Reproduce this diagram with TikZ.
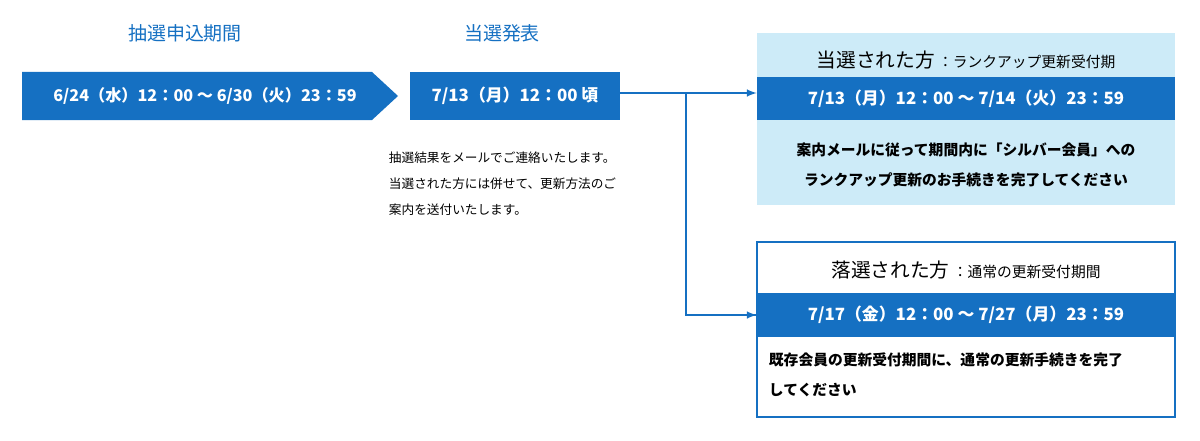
\documentclass[tikz,border=0pt]{standalone}
\usepackage{fontspec}
\setmainfont{Noto Sans CJK JP}
\usetikzlibrary{positioning,shapes.symbols}
\definecolor{mainblue}{HTML}{1570C2}
\definecolor{paleblue}{HTML}{CDEBF8}
\tikzset{
  head/.style={text=mainblue, font=\fontsize{13.5}{15}\selectfont},
  band/.style={fill=mainblue, text=white, font=\bfseries\fontsize{12}{14}\selectfont, inner sep=0pt},
  note/.style={font=\fontsize{9}{18.5}\selectfont, align=left, anchor=north west},
  body/.style={font=\bfseries\fontsize{10.5}{21}\selectfont, align=left},
  link/.style={draw=mainblue, line width=1.4pt, -latex},
}
\begin{document}
\begin{tikzpicture}[x=0.025cm, y=-0.025cm]
  \useasboundingbox (0,0) rectangle (1200,440);
  % timeline
  \node[head] (apply) at (185,33) {抽選申込期間};
  \node[head] (announce) at (502,33) {当選発表};
  \fill[mainblue] (22,72) -- (372,72) -- (398,96) -- (372,120) -- (22,120) -- cycle;
  \node[text=white, font=\bfseries\fontsize{11.5}{13}\selectfont] (period) at (205,96) {6/24（水）12：00 〜 6/30（火）23：59};
  \node[band, minimum width=210*0.025cm, minimum height=48*0.025cm] (result) at (515,96) {7/13（月）12：00 頃};
  \node[note] (mail) at (384,147) {抽選結果をメールでご連絡いたします。\\当選された方には併せて、更新方法のご\\案内を送付いたします。};
  % winners
  \fill[paleblue] (757,33) rectangle (1175,205);
  \node[font=\fontsize{14}{15}\selectfont] (wintitle) at (966,60) {当選された方\,{\fontsize{10.5}{12}\selectfont：ランクアップ更新受付期}};
  \node[band, minimum width=418*0.025cm, minimum height=43*0.025cm] (winband) at (966,98.5) {7/13（月）12：00 〜 7/14（火）23：59};
  \node[body, align=center] (wintext) at (966,165) {案内メールに従って期間内に「シルバー会員」への\\ランクアップ更新のお手続きを完了してください};
  % losers
  \draw[mainblue, line width=1.5pt] (757,242) rectangle (1175,417);
  \node[font=\fontsize{14}{15}\selectfont] (losetitle) at (966,270) {落選された方\,{\fontsize{10.5}{12}\selectfont：通常の更新受付期間}};
  \node[band, minimum width=418*0.025cm, minimum height=44*0.025cm] (loseband) at (966,315) {7/17（金）12：00 〜 7/27（月）23：59};
  \node[body, anchor=west] (losetext) at (764,375) {既存会員の更新受付期間に、通常の更新手続きを完了\\してください};
  % connectors
  \coordinate (fork) at (686,93);
  \draw[link] (result.east |- fork) -- (winband.west |- fork);
  \draw[mainblue, line width=1.4pt] (fork) |- (loseband.west);
  \draw[link] (fork |- loseband.west) -- (loseband.west);
\end{tikzpicture}
\end{document}
